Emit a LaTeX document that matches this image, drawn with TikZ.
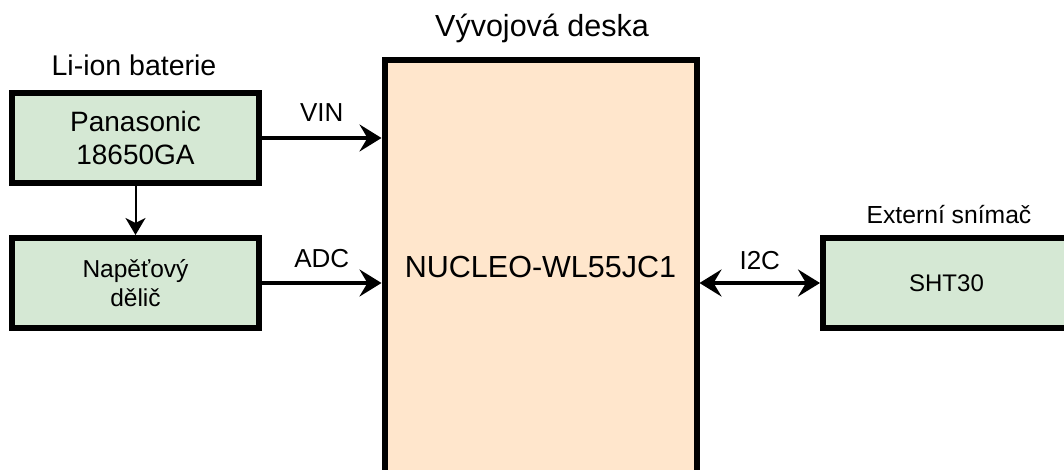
\documentclass[tikz,border=0pt]{standalone}
\usepackage{fontspec}
\setmainfont{Liberation Sans}
\usetikzlibrary{arrows.meta}
\definecolor{boxgreen}{HTML}{D5E8D4}
\definecolor{boxorange}{HTML}{FFE6CC}
\tikzset{
  greenbox/.style={draw=black, line width=6bp, fill=boxgreen, rectangle, inner sep=0pt, align=center},
  mainbox/.style={draw=black, line width=6bp, fill=boxorange, rectangle, inner sep=0pt, align=center},
  thickarr/.style={line width=3.6bp, -{Stealth[length=22bp, width=27bp, inset=8bp]}},
  thickdbl/.style={line width=3.6bp, {Stealth[length=22bp, width=27bp, inset=8bp]}-{Stealth[length=22bp, width=27bp, inset=8bp]}},
  thinarr/.style={line width=2bp, -{Stealth[length=17bp, width=20bp, inset=5bp]}},
  lbl/.style={anchor=base, inner sep=0pt},
}
\begin{document}
\begin{tikzpicture}[x=1bp, y=-1bp]
\useasboundingbox (0,0) rectangle (1064,470);
\clip (0,0) rectangle (1064,470);
\fill[white] (0,0) rectangle (1064,470);

\node[greenbox, minimum width=247bp, minimum height=90bp, font=\fontsize{28bp}{33bp}\selectfont] (pan) at (135.5,138) {Panasonic\\18650GA};
\node[greenbox, minimum width=247bp, minimum height=90bp, font=\fontsize{24.5bp}{29bp}\selectfont] (div) at (135.5,283) {Napěťový\\dělič};
\node[mainbox, minimum width=312bp, minimum height=414bp, font=\fontsize{30.5bp}{36bp}\selectfont] (big) at (540.5,267) {NUCLEO-WL55JC1};
\node[greenbox, minimum width=247bp, minimum height=90bp, font=\fontsize{24bp}{29bp}\selectfont] (sht) at (946.5,283) {SHT30};

\node[lbl, font=\fontsize{28.5bp}{34bp}\selectfont] (tbat) at (134,76) {Li-ion baterie};
\node[lbl, font=\fontsize{30.5bp}{36bp}\selectfont] (tdev) at (542,37) {Vývojová deska};
\node[lbl, font=\fontsize{24.7bp}{30bp}\selectfont] (text) at (949,224) {Externí snímač};

\draw[thickarr] (pan.east) -- (pan.east -| big.west) node[lbl, pos=0.5, yshift=16bp, font=\fontsize{26bp}{31bp}\selectfont] (tvin) {VIN};
\draw[thickarr] (div.east) -- (div.east -| big.west) node[lbl, pos=0.5, yshift=15bp, font=\fontsize{26bp}{31bp}\selectfont] (tadc) {ADC};
\draw[thickdbl] (sht.west -| big.east) -- (sht.west) node[lbl, pos=0.5, yshift=13bp, font=\fontsize{26bp}{31bp}\selectfont] (ti2c) {I2C};
\draw[thinarr] (pan.south) -- (div.north);
\end{tikzpicture}
\end{document}
